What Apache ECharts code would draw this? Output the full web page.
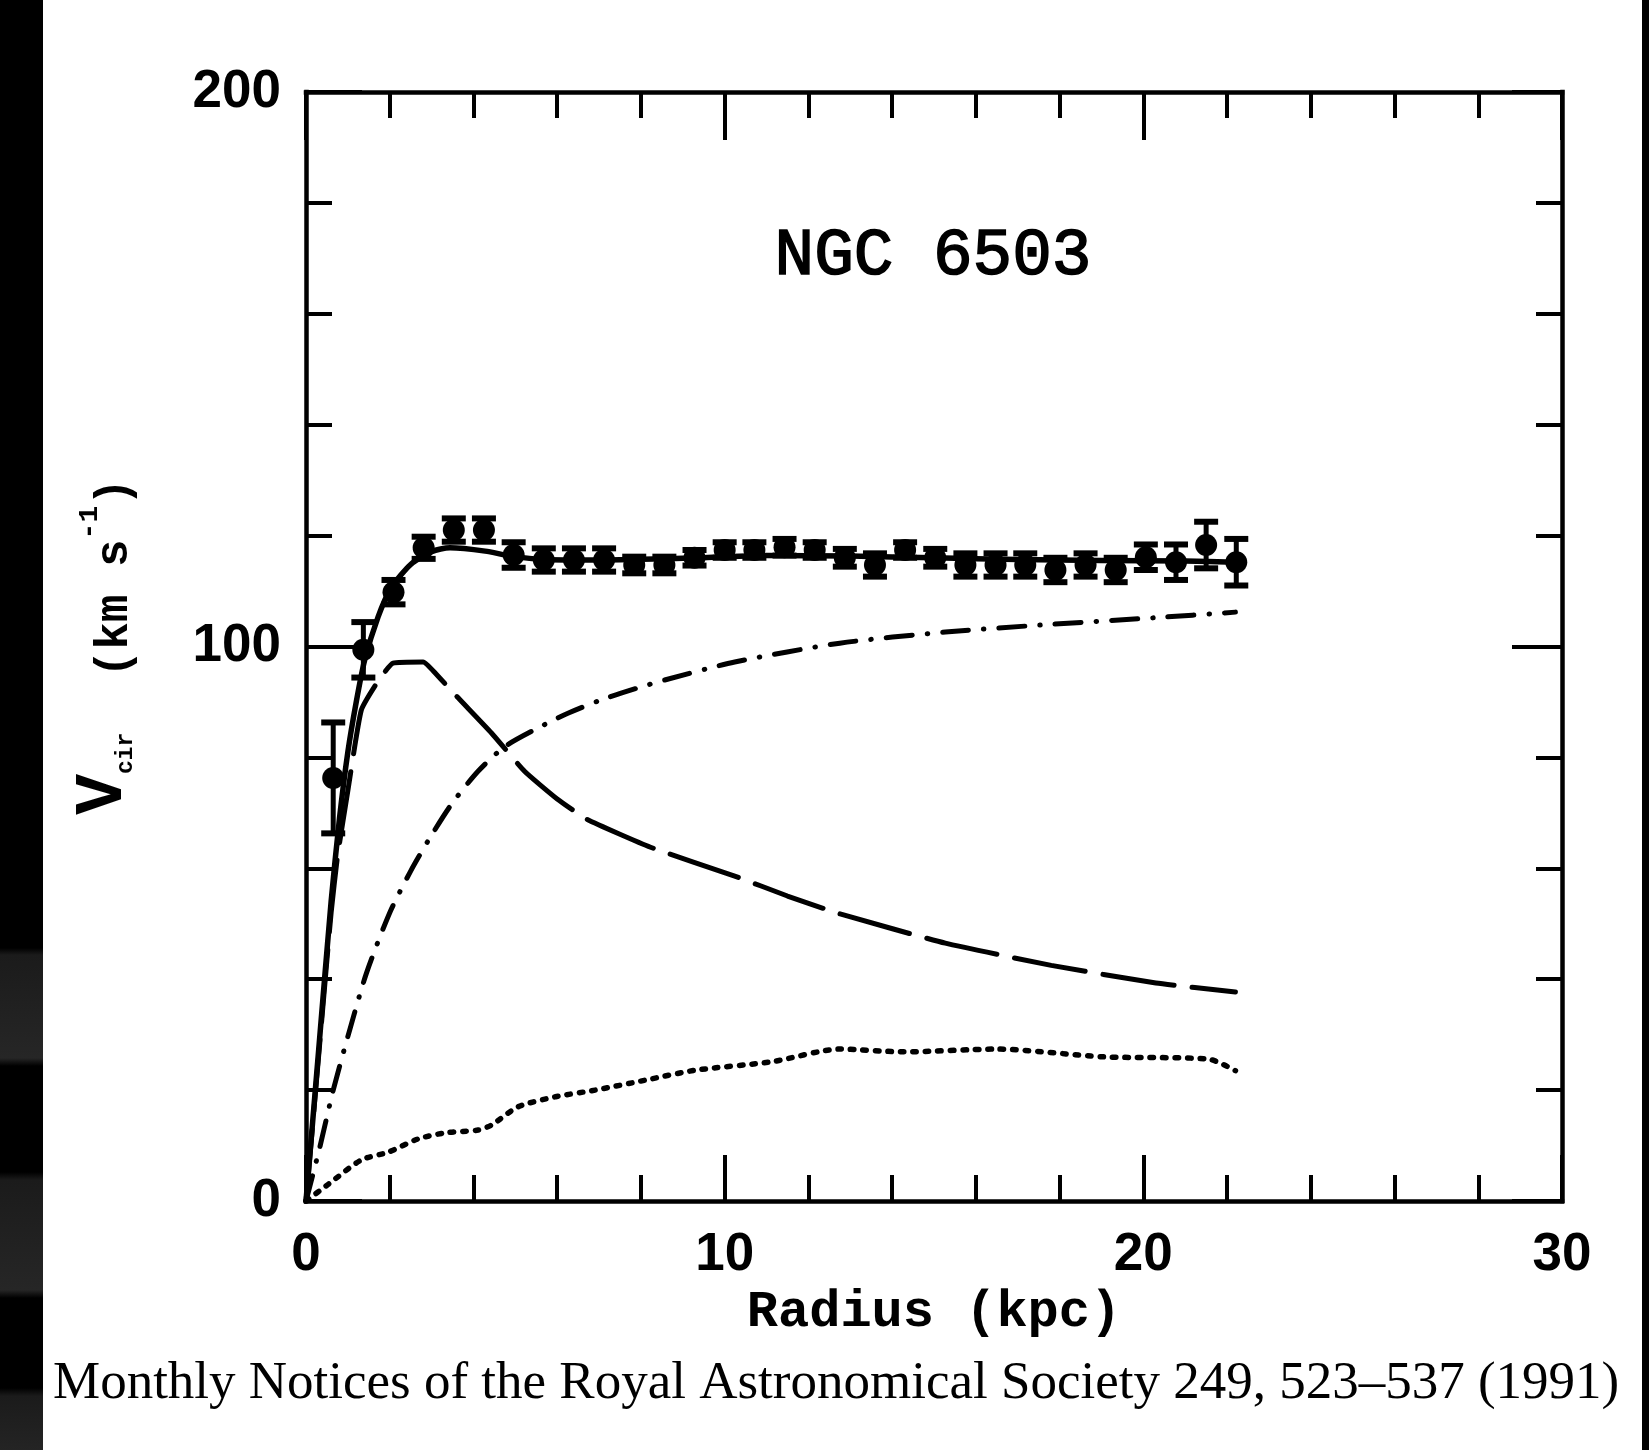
<!DOCTYPE html>
<html>
<head>
<meta charset="utf-8">
<title>NGC 6503</title>
<script src="https://cdn.jsdelivr.net/npm/echarts@6/dist/echarts.min.js"></script>
<style>
    html, body { margin: 0; padding: 0; background: #fff; }
    #main { position: absolute; left: 0; top: 0; width: 1649px; height: 1450px; }
    .band { position: absolute; top: 0; height: 1450px; }
    #bandL {
        left: 0; width: 43px;
        background: linear-gradient(to bottom, #000 0, #000 948px, #1b1b1b 955px, #262626 1058px, #000 1066px,
            #000 1172px, #1b1b1b 1180px, #262626 1290px, #000 1298px, #000 1388px, #1b1b1b 1396px, #242424 1450px);
    }
    #bandR { left: 1642px; width: 7px; background: #000; }
</style>
</head>
<body>
<div id="main"></div>
<div class="band" id="bandL"></div>
<div class="band" id="bandR"></div>
<script>
// observed rotation curve (kpc, km/s)
var obsR = [0.65, 1.37, 2.09, 2.81, 3.53, 4.25, 4.96, 5.68, 6.40, 7.12, 7.84, 8.56, 9.28, 10.00, 10.71, 11.43,
    12.15, 12.87, 13.59, 14.31, 15.03, 15.75, 16.47, 17.18, 17.90, 18.62, 19.34, 20.06, 20.78, 21.50, 22.22];
var obsV = [76.3, 99.4, 109.8, 117.8, 121.0, 121.0, 116.5, 115.6, 115.6, 115.6, 114.7, 114.7, 116.0, 117.4, 117.4, 117.9,
    117.4, 116.0, 114.7, 117.4, 116.0, 114.7, 114.7, 114.7, 113.8, 114.7, 113.8, 116.1, 115.2, 118.3, 115.2];
var obsErr = [10, 5, 2.2, 2.0, 2.1, 2.1, 2.3, 2.1, 2.1, 2.1, 1.5, 1.5, 1.4, 1.4, 1.4, 1.5,
    1.4, 1.6, 2.1, 1.4, 1.6, 2.1, 2.1, 2.1, 2.2, 2.1, 2.2, 2.3, 3.2, 4.2, 4.2];

// fitted components
var totalR = [0, 0.3, 0.6, 0.8, 1.0, 1.2, 1.4, 1.72, 2.03, 2.5, 3.0, 3.44, 4.28, 4.9, 5.7, 7, 9, 11, 13, 15, 17, 19, 21, 22.2];
var totalV = [0, 27, 54, 69, 81, 90, 97.5, 105.3, 110.5, 114.8, 117.1, 117.8, 117.2, 116.3, 115.7, 115.6, 115.9, 116.4, 116.3, 116, 115.7, 115.5, 115.4, 115.2];

var diskR = [0, 0.3, 0.6, 0.75, 1.0, 1.32, 1.7, 2.08, 2.8, 3.04, 3.6, 4.43, 5.22, 6.0, 6.72, 8.23, 10.24, 11.5, 12.75, 15.27, 17.8, 20.3, 22.2];
var diskV = [0, 26, 52, 62, 74, 88.5, 93.5, 97.0, 97.2, 95.6, 91, 84.4, 77.5, 72.5, 68.8, 63.8, 58.6, 55, 51.8, 46.5, 42.5, 39.3, 37.7];

var haloR = [0, 0.33, 0.65, 1.05, 1.44, 2.0, 2.5, 2.92, 3.47, 4.11, 4.76, 5.72, 6.27, 7.06, 7.87, 8.59, 10.24, 12.75, 15.27, 17.8, 20.3, 22.2];
var haloV = [0, 9.7, 20, 31, 41, 52, 59.5, 65, 71.5, 77.5, 82, 86, 88, 90.4, 92.4, 94, 97.2, 100.6, 102.6, 104, 105.2, 106.2];

var gasR = [0, 0.53, 1.32, 1.96, 2.68, 3.33, 4.11, 4.43, 5.07, 5.96, 6.91, 8.11, 9.31, 11.12, 12.75, 14.27, 16.5, 19.04, 21.55, 22.2];
var gasV = [0, 3, 7.4, 8.8, 11.2, 12.3, 12.8, 13.7, 17, 18.8, 20, 21.8, 23.6, 25.1, 27.4, 26.9, 27.4, 26, 25.6, 23.5];

var xTicks = [0, 10, 20, 30];
var yTicks = [0, 100, 200];

var pairs = function (xs, ys) {
    var out = [];
    for (var i = 0; i < xs.length; i++) {
        out.push([xs[i], ys[i]]);
    }
    return out;
};

var obsData = [];
for (var i = 0; i < obsR.length; i++) {
    obsData.push([obsR[i], obsV[i], obsErr[i]]);
}

var tickLabel = {
    color: '#000',
    fontFamily: 'Liberation Sans, Arial, sans-serif',
    fontWeight: 'bold',
    fontSize: 53
};

var makeAxis = function (position, ticks, label, majorLen) {
    return {
        type: 'value',
        position: position,
        min: ticks[0],
        max: ticks[ticks.length - 1],
        interval: ticks[1] - ticks[0],
        axisLine: { show: true, onZero: false, lineStyle: { color: '#000', width: 4.5, cap: 'square' } },
        axisTick: { show: true, inside: true, length: majorLen, lineStyle: { color: '#000', width: 4 } },
        minorTick: { show: true, splitNumber: 5, length: 26, lineStyle: { color: '#000', width: 4 } },
        splitLine: { show: false },
        minorSplitLine: { show: false },
        axisLabel: label ? label : { show: false }
    };
};

var xBottom = makeAxis('bottom', xTicks, Object.assign({ margin: 28 }, tickLabel), 46);
xBottom.name = 'Radius (kpc)';
xBottom.nameLocation = 'middle';
xBottom.nameGap = 84;
xBottom.nameTextStyle = { color: '#000', fontFamily: 'Liberation Mono, monospace', fontWeight: 'bold', fontSize: 52 };

var yLeft = makeAxis('left', yTicks, Object.assign({ margin: 25 }, tickLabel), 56);
yLeft.name = '{v|V}{s|cir}{t|  (km s}{p|-1}{t|)}';
yLeft.nameLocation = 'middle';
yLeft.nameRotate = 90;
yLeft.nameGap = 168;
var monoB = 'Liberation Mono, monospace';
yLeft.nameTextStyle = {
    color: '#000',
    rich: {
        v: { fontFamily: monoB, fontWeight: 'bold', fontSize: 68, lineHeight: 72, verticalAlign: 'bottom' },
        s: { fontFamily: monoB, fontWeight: 'bold', fontSize: 23, lineHeight: 22, verticalAlign: 'bottom' },
        t: { fontFamily: monoB, fontWeight: 'bold', fontSize: 46, lineHeight: 46, verticalAlign: 'bottom' },
        p: { fontFamily: monoB, fontWeight: 'bold', fontSize: 28, lineHeight: 30, verticalAlign: 'top', padding: [10, 0, 0, 0] }
    }
};

var lineSeries = function (name, data, type, width, smooth) {
    return {
        name: name,
        type: 'line',
        data: data,
        showSymbol: false,
        smooth: smooth,
        xAxisIndex: 0,
        yAxisIndex: 0,
        lineStyle: { color: '#000', width: width, type: type, cap: 'round', join: 'round' },
        z: 2
    };
};

var chart = echarts.init(document.getElementById('main'));
var option = {
    animation: false,
    backgroundColor: 'transparent',
    grid: { left: 306, top: 92, width: 1256, height: 1109, containLabel: false, outerBoundsMode: 'none' },
    xAxis: [xBottom, makeAxis('top', xTicks, null, 48)],
    yAxis: [yLeft, makeAxis('right', yTicks, null, 50)],
    graphic: [{
        type: 'text',
        x: 933,
        y: 257,
        style: {
            text: 'NGC 6503',
            fill: '#000',
            stroke: '#000',
            lineWidth: 1.6,
            font: '66px Liberation Mono, monospace',
            textAlign: 'center',
            textVerticalAlign: 'middle'
        }
    }, {
        type: 'text',
        x: 53,
        y: 1384,
        style: {
            text: 'Monthly Notices of the Royal Astronomical Society 249, 523\u2013537 (1991)',
            fill: '#000',
            font: '53px Liberation Serif, Times New Roman, serif',
            textAlign: 'left',
            textVerticalAlign: 'middle'
        }
    }],
    series: [
        lineSeries('gas', pairs(gasR, gasV), [3.5, 9], 5.5, 0.25),
        lineSeries('halo', pairs(haloR, haloV), [26, 15, 0.5, 15], 5, 0.25),
        lineSeries('disk', pairs(diskR, diskV), [72, 18], 5, 0.15),
        lineSeries('total', pairs(totalR, totalV), 'solid', 5.5, 0.25),
        {
            name: 'errors',
            type: 'custom',
            data: obsData,
            encode: { x: 0, y: 1 },
            z: 3,
            renderItem: function (params, api) {
                var x = api.value(0);
                var y = api.value(1);
                var e = api.value(2);
                var top = api.coord([x, y + e]);
                var bot = api.coord([x, y - e]);
                var hw = 12;
                var cap = { stroke: '#000', lineWidth: 6 };
                return {
                    type: 'group',
                    children: [
                        { type: 'line', shape: { x1: top[0], y1: top[1], x2: bot[0], y2: bot[1] }, style: { stroke: '#000', lineWidth: 5 } },
                        { type: 'line', shape: { x1: top[0] - hw, y1: top[1], x2: top[0] + hw, y2: top[1] }, style: cap },
                        { type: 'line', shape: { x1: bot[0] - hw, y1: bot[1], x2: bot[0] + hw, y2: bot[1] }, style: cap }
                    ]
                };
            }
        },
        {
            name: 'observed',
            type: 'scatter',
            data: pairs(obsR, obsV),
            symbol: 'circle',
            symbolSize: 22,
            itemStyle: { color: '#000', opacity: 1 },
            z: 4
        }
    ]
};
chart.setOption(option);
</script>
</body>
</html>
